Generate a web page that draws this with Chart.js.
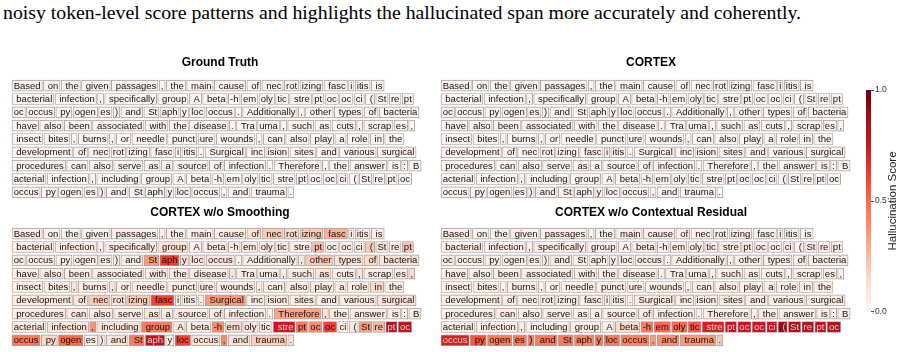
<!DOCTYPE html>
<html>
<head>
<meta charset="utf-8">
<script src="https://cdn.jsdelivr.net/npm/chart.js@4.4.1/dist/chart.umd.min.js"></script>
<style>
  body { margin: 0; width: 905px; height: 352px; background: #fff; position: relative; overflow: hidden; }
  canvas { position: absolute; }
  #caption { position: absolute; left: 3px; top: 1px; font: 19.8px "Liberation Serif"; color: #000; white-space: nowrap; }
</style>
</head>
<body>
<div id="caption">noisy token-level score patterns and highlights the hallucinated span more accurately and coherently.</div>
<canvas id="gt" style="left:10px;top:52px" width="420" height="147"></canvas>
<canvas id="cortex" style="left:439px;top:52px" width="424" height="147"></canvas>
<canvas id="noSmooth" style="left:10px;top:202px" width="420" height="145"></canvas>
<canvas id="noResid" style="left:439px;top:202px" width="424" height="145"></canvas>
<canvas id="cbar" style="left:861px;top:84px" width="44" height="234"></canvas>
<script>
// tokens, one array per wrapped line
const rows = [
  ["Based", " on", " the", " given", " passages", ",", " the", " main", " cause", " of", " nec", "rot", "izing", " fasc", "i", "itis", " is"],
  [" bacterial", " infection", ",", " specifically", " group", " A", " beta", "-h", "em", "oly", "tic", " stre", "pt", "oc", "oc", "ci", " (", "St", "re", "pt"],
  ["oc", "occus", " py", "ogen", "es", ")", " and", " St", "aph", "y", "loc", "occus", ".", " Additionally", ",", " other", " types", " of", " bacteria"],
  [" have", " also", " been", " associated", " with", " the", " disease", ".", " Tra", "uma", ",", " such", " as", " cuts", ",", " scrap", "es", ","],
  [" insect", " bites", ",", " burns", ",", " or", " needle", " punct", "ure", " wounds", ",", " can", " also", " play", " a", " role", " in", " the"],
  [" development", " of", " nec", "rot", "izing", " fasc", "i", "itis", ".", " Surgical", " inc", "ision", " sites", " and", " various", " surgical"],
  [" procedures", " can", " also", " serve", " as", " a", " source", " of", " infection", ".", " Therefore", ",", " the", " answer", " is", ":", " B"],
  ["acterial", " infection", ",", " including", " group", " A", " beta", "-h", "em", "oly", "tic", " stre", "pt", "oc", "oc", "ci", " (", "St", "re", "pt", "oc"],
  ["occus", " py", "ogen", "es", ")", " and", " St", "aph", "y", "loc", "occus", ",", " and", " trauma", "."]
];

const groundTruth = [
  [0, 0, 0, 0, 0, 0, 0, 0, 0, 0, 0, 0, 0, 0, 0, 0, 0],
  [0, 0, 0, 0, 0, 0, 0, 0, 0, 0, 0, 0, 0, 0, 0, 0, 0, 0, 0, 0],
  [0, 0, 0, 0, 0, 0, 0, 0, 0, 0, 0, 0, 0, 0, 0, 0, 0, 0, 0],
  [0, 0, 0, 0, 0, 0, 0, 0, 0, 0, 0, 0, 0, 0, 0, 0, 0, 0],
  [0, 0, 0, 0, 0, 0, 0, 0, 0, 0, 0, 0, 0, 0, 0, 0, 0, 0],
  [0, 0, 0, 0, 0, 0, 0, 0, 0, 0, 0, 0, 0, 0, 0, 0],
  [0, 0, 0, 0, 0, 0, 0, 0, 0, 0, 0, 0, 0, 0, 0, 0, 0],
  [0, 0, 0, 0, 0, 0, 0, 0, 0, 0, 0, 0, 0, 0, 0, 0, 0, 0, 0, 0, 0],
  [0, 0, 0, 0, 0, 0, 0, 0, 0, 0, 0, 0, 0, 0, 0]
];

const cortex = [
  [0, 0, 0, 0, 0, 0, 0, 0, 0, 0, 0, 0, 0, 0, 0, 0, 0],
  [0, 0, 0, 0, 0, 0, 0, 0, 0, 0, 0, 0, 0, 0, 0, 0, 0, 0, 0, 0],
  [0, 0, 0, 0, 0, 0, 0, 0, 0, 0, 0, 0, 0, 0, 0, 0, 0, 0, 0],
  [0, 0, 0, 0, 0, 0, 0, 0, 0, 0, 0, 0, 0, 0, 0, 0, 0, 0],
  [0, 0, 0, 0, 0, 0, 0, 0, 0, 0, 0, 0, 0, 0, 0, 0, 0, 0],
  [0, 0, 0, 0, 0, 0, 0, 0, 0, 0, 0, 0, 0, 0, 0, 0],
  [0, 0, 0, 0, 0, 0, 0, 0, 0, 0, 0, 0, 0, 0, 0, 0, 0],
  [0, 0, 0, 0, 0, 0, 0, 0, 0, 0, 0, 0, 0, 0, 0, 0, 0, 0, 0, 0, 0],
  [0, 0, 0, 0, 0, 0, 0, 0, 0, 0, 0, 0, 0, 0, 0]
];

const noSmoothing = [
  [.05, .03, .03, .03, .03, .03, .03, .03, .05, .1, .2, .15, .2, .28, .03, .05, .05],
  [.05, .05, .05, .05, .12, .03, .05, .05, .05, .05, .05, .05, .25, .05, .05, .05, .2, .1, .05, .22],
  [.05, .05, .05, .05, .05, .03, .05, .35, .62, .1, .08, .08, .03, .05, .05, .2, .1, .15, .1],
  [.05, .05, .05, .05, .05, .05, .05, .1, .05, .05, .05, .05, .1, .05, .1, .05, .05, .15],
  [.05, .05, .12, .05, .1, .05, .05, .05, .08, .05, .08, .05, .05, .05, .05, .05, .15, .05],
  [.05, .08, .2, .1, .2, .6, .05, .05, .05, .35, .05, .05, .05, .05, .05, .1],
  [.05, .05, .05, .05, .08, .05, .05, .05, .05, .03, .32, .1, .05, .05, .05, .05, .05],
  [.05, .1, .38, .1, .45, .1, .05, .4, .15, .1, .08, .75, .45, .4, .6, .05, .08, .35, .25, .82, .78],
  [.45, .15, .5, .05, .03, .1, .45, .8, .02, .6, .1, .4, .1, .18, .1]
];

const noResidual = [
  [.04, .03, .03, .03, .04, .03, .03, .04, .04, .04, .04, .04, .04, .04, .03, .04, .04],
  [.04, .04, .03, .04, .04, .03, .04, .04, .04, .04, .04, .04, .04, .04, .04, .04, .03, .04, .04, .04],
  [.04, .04, .04, .04, .04, .03, .04, .04, .04, .03, .04, .04, .03, .04, .03, .04, .04, .04, .04],
  [.04, .04, .04, .04, .04, .04, .04, .03, .04, .04, .03, .04, .04, .04, .03, .04, .04, .03],
  [.04, .04, .03, .04, .03, .04, .04, .04, .04, .04, .03, .04, .04, .04, .04, .04, .04, .04],
  [.04, .04, .04, .04, .04, .04, .03, .04, .03, .06, .04, .04, .04, .04, .04, .04],
  [.04, .04, .04, .04, .04, .04, .04, .04, .04, .03, .04, .03, .04, .04, .04, .03, .04],
  [.04, .04, .04, .04, .05, .04, .15, .45, .5, .5, .55, .72, .76, .76, .76, .78, .9, .85, .82, .8, .82],
  [.72, .55, .45, .45, .45, .45, .45, .42, .45, .45, .42, .35, .38, .35, .2]
];

// matplotlib "Reds"
const reds = [
  [255, 245, 240], [254, 224, 210], [252, 187, 161], [252, 146, 114], [251, 106, 74],
  [239, 59, 44], [203, 24, 29], [165, 15, 21], [103, 0, 13]
];
function redColor(v) {
  const t = Math.max(0, Math.min(1, v)) * (reds.length - 1);
  const i = Math.min(reds.length - 2, Math.floor(t)), f = t - i;
  const c = reds[i].map((a, k) => Math.round(a + (reds[i + 1][k] - a) * f));
  return `rgb(${c[0]},${c[1]},${c[2]})`;
}

const TOKEN_FONT = '9.5px "Liberation Sans"';
const PAD = 1.7, GAP = 1.1, START = 2;
const lineLabels = rows.map((_, r) => 'line ' + (r + 1));

const measure = document.createElement('canvas').getContext('2d');
measure.font = TOKEN_FONT;

const tokenText = {
  id: 'tokenText',
  afterDatasetsDraw(chart) {
    const ctx = chart.ctx;
    const data = chart.data.datasets[0].data;
    ctx.save();
    ctx.font = TOKEN_FONT;
    ctx.textBaseline = 'middle';
    chart.getDatasetMeta(0).data.forEach((el, i) => {
      const d = data[i];
      ctx.fillStyle = d.s > 0.65 ? '#d8d8d8' : '#111';
      ctx.fillText(d.tok, Math.min(el.x, el.base) + PAD, el.y + 0.5);
    });
    ctx.restore();
  }
};

function tokenPanel(id, title, scores, padBottom) {
  const canvas = document.getElementById(id);
  const bars = [];
  rows.forEach((row, r) => {
    let x = START;
    row.forEach((tok, i) => {
      const w = measure.measureText(tok).width + 2 * PAD;
      bars.push({ x: [x, x + w], y: lineLabels[r], tok: tok, s: scores[r][i] });
      x += w + GAP;
    });
  });
  new Chart(canvas, {
    type: 'bar',
    data: {
      labels: lineLabels,
      datasets: [{
        data: bars,
        backgroundColor: bars.map(b => redColor(b.s)),
        borderColor: '#a0a0a0',
        borderWidth: 0.9,
        borderSkipped: false,
        barThickness: 11
      }]
    },
    options: {
      indexAxis: 'y',
      responsive: false,
      animation: false,
      layout: { padding: 0 },
      scales: {
        x: { type: 'linear', min: 0, max: canvas.width, display: false },
        y: { type: 'category', display: false }
      },
      plugins: {
        legend: { display: false },
        tooltip: { enabled: false },
        title: {
          display: true,
          text: title,
          color: '#000',
          font: { family: 'Liberation Sans', size: 12, weight: 'bold' },
          padding: { top: 3, bottom: padBottom }
        }
      }
    },
    plugins: [tokenText]
  });
}

tokenPanel('gt', 'Ground Truth', groundTruth, 9.6);
tokenPanel('cortex', 'CORTEX', cortex, 9.6);
tokenPanel('noSmooth', 'CORTEX w/o Smoothing', noSmoothing, 7.6);
tokenPanel('noResid', 'CORTEX w/o Contextual Residual', noResidual, 7.6);

// colorbar
const cbarLabel = {
  id: 'cbarLabel',
  afterDraw(chart) {
    const ctx = chart.ctx;
    const a = chart.chartArea;
    ctx.save();
    ctx.translate(32, (a.top + a.bottom) / 2);
    ctx.rotate(-Math.PI / 2);
    ctx.font = '11.5px "Liberation Sans"';
    ctx.fillStyle = '#222';
    ctx.textAlign = 'center';
    ctx.textBaseline = 'middle';
    ctx.fillText('Hallucination Score', 0, 0);
    ctx.restore();
  }
};

new Chart(document.getElementById('cbar'), {
  type: 'bar',
  data: {
    labels: ['score'],
    datasets: [{
      data: [1],
      backgroundColor: (c) => {
        const a = c.chart.chartArea;
        if (!a) return '#fff';
        const g = c.chart.ctx.createLinearGradient(0, a.bottom, 0, a.top);
        reds.forEach((col, i) => g.addColorStop(i / (reds.length - 1), `rgb(${col[0]},${col[1]},${col[2]})`));
        return g;
      },
      borderWidth: 0,
      barPercentage: 1,
      categoryPercentage: 1
    }]
  },
  options: {
    responsive: false,
    animation: false,
    layout: { padding: { left: 5, top: 5, bottom: 5, right: 0 } },
    scales: {
      x: { display: false },
      y: {
        position: 'right',
        min: 0,
        max: 1,
        ticks: { stepSize: 0.5, callback: v => v.toFixed(1), color: '#333', padding: 1, font: { family: 'Liberation Sans', size: 8.5 } },
        grid: { drawOnChartArea: false, tickLength: 3, color: '#444' },
        border: { display: false },
        afterFit(s) { s.width = 34; }
      }
    },
    plugins: { legend: { display: false }, tooltip: { enabled: false } }
  },
  plugins: [cbarLabel]
});
</script>
</body>
</html>
